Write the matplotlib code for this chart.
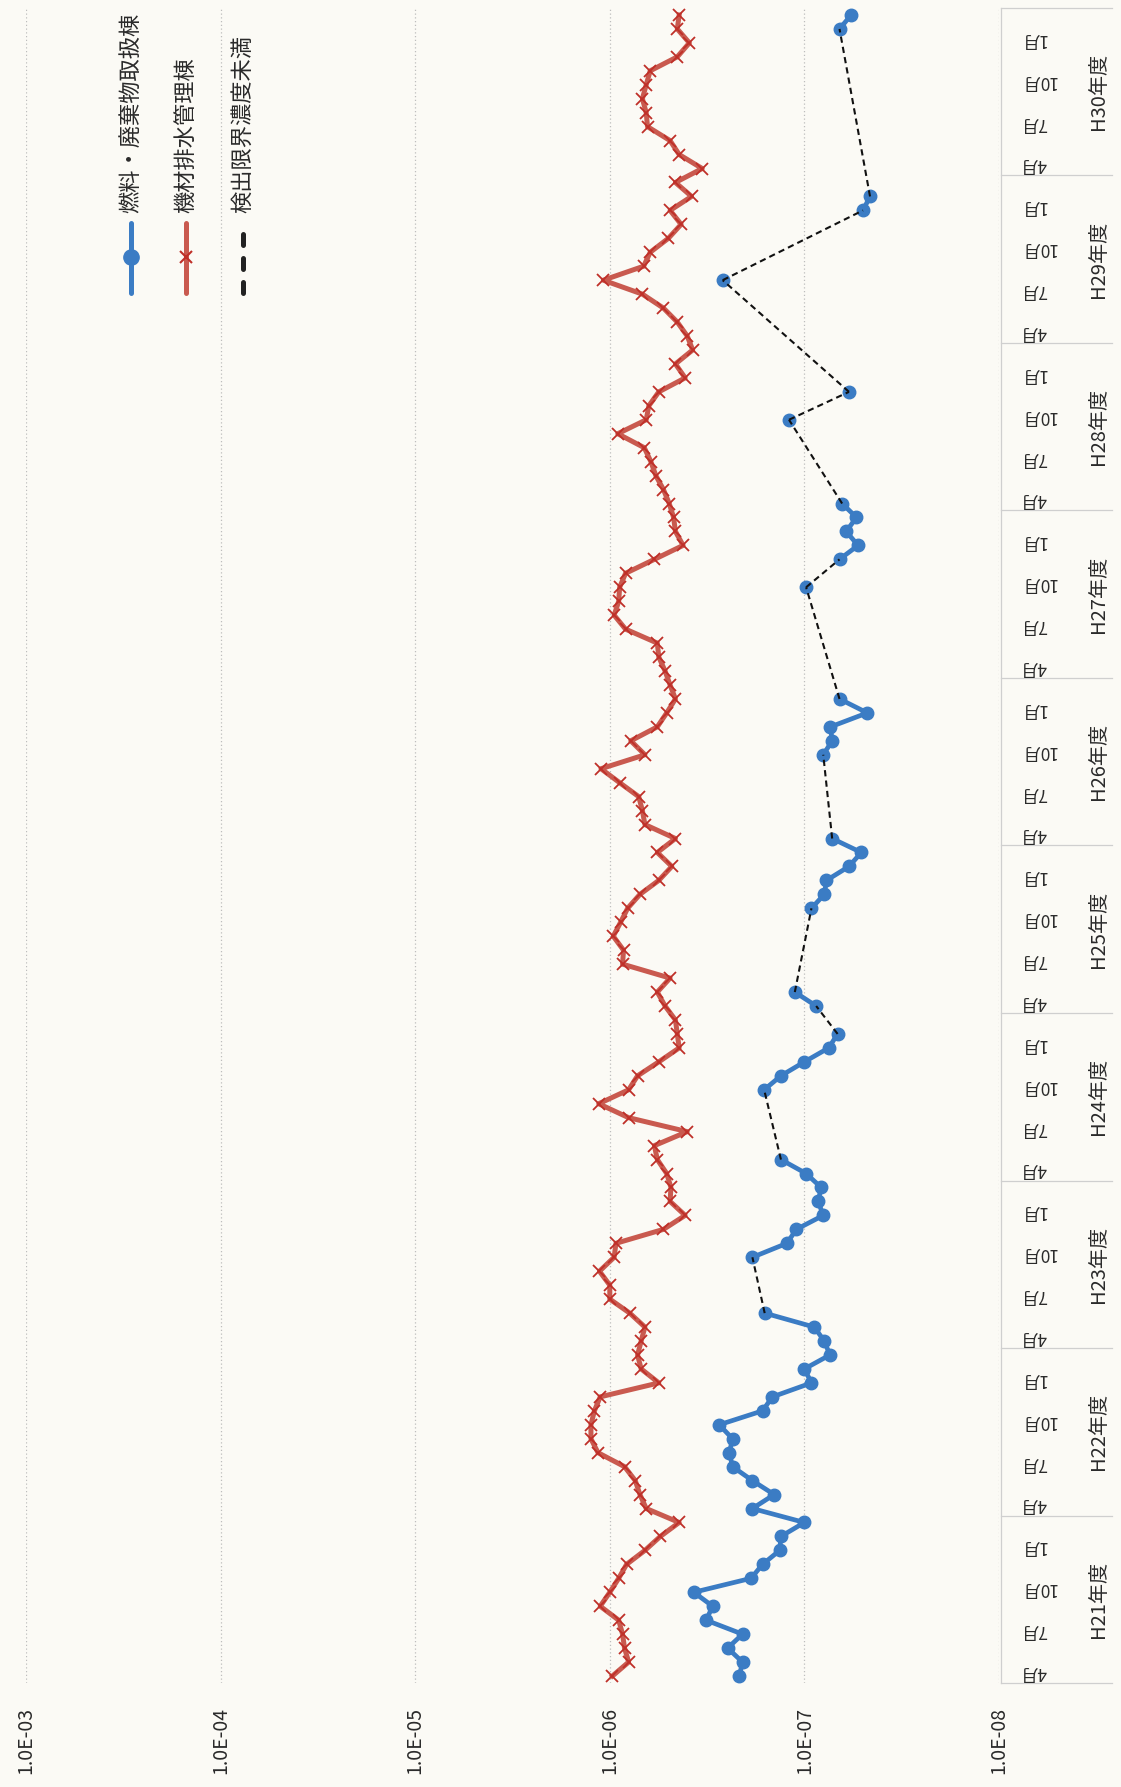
import numpy as np
import matplotlib.pyplot as plt
from matplotlib import transforms
from matplotlib.lines import Line2D
from matplotlib.ticker import NullLocator

plt.rcParams['font.family'] = ['Noto Sans CJK JP', 'DejaVu Sans']

# fiscal years (April -> March), one value per month
fiscal_years = ['H21', 'H22', 'H23', 'H24', 'H25', 'H26', 'H27', 'H28', 'H29', 'H30']
months = [4, 5, 6, 7, 8, 9, 10, 11, 12, 1, 2, 3]
tick_months = [4, 7, 10, 1]

decades = [1e-3, 1e-4, 1e-5, 1e-6, 1e-7, 1e-8]
decade_labels = ['1.0E-03', '1.0E-04', '1.0E-05', '1.0E-06', '1.0E-07', '1.0E-08']

series_names = ['燃料・廃棄物取扱棟', '機材排水管理棟', '検出限界濃度未満']

nan = np.nan
# 燃料・廃棄物取扱棟 (nan = below detection limit)
fuel_bldg = [
    2.16e-7, 2.08e-7, 2.48e-7, 2.08e-7, 3.2e-7, 2.96e-7, 3.7e-7, 1.88e-7, 1.64e-7, 1.34e-7, 1.32e-7, 1.0e-7,
    1.85e-7, 1.43e-7, 1.85e-7, 2.34e-7, 2.43e-7, 2.34e-7, 2.74e-7, 1.64e-7, 1.46e-7, 9.2e-8, 1.0e-7, 7.4e-8,
    7.9e-8, 8.9e-8, 1.6e-7, nan, nan, nan, 1.85e-7, 1.23e-7, 1.1e-7, 8.0e-8, 8.5e-8, 8.2e-8,
    9.8e-8, 1.32e-7, nan, nan, nan, nan, 1.61e-7, 1.32e-7, 1.0e-7, 7.5e-8, 6.75e-8, nan,
    8.7e-8, 1.12e-7, nan, nan, nan, nan, nan, 9.2e-8, 7.9e-8, 7.7e-8, 5.9e-8, 5.1e-8,
    7.2e-8, nan, nan, nan, nan, nan, 8.0e-8, 7.2e-8, 7.35e-8, 4.75e-8, 6.6e-8, nan,
    nan, nan, nan, nan, nan, nan, 9.8e-8, nan, 6.6e-8, 5.3e-8, 6.1e-8, 5.4e-8,
    6.4e-8, nan, nan, nan, nan, nan, 1.2e-7, nan, 5.9e-8, nan, nan, nan,
    nan, nan, nan, nan, 2.63e-7, nan, nan, nan, nan, 5.0e-8, 4.6e-8, nan,
    nan, nan, nan, nan, nan, nan, nan, nan, nan, nan, 6.6e-8, 5.75e-8,
]
# 機材排水管理棟
equip_bldg = [
    9.7e-7, 8.0e-7, 8.4e-7, 8.6e-7, 9.0e-7, 1.12e-6, 1.0e-6, 9.0e-7, 8.2e-7, 6.6e-7, 5.5e-7, 4.4e-7,
    6.5e-7, 7.0e-7, 7.4e-7, 8.4e-7, 1.15e-6, 1.25e-6, 1.25e-6, 1.2e-6, 1.12e-6, 5.6e-7, 6.9e-7, 7.2e-7,
    6.9e-7, 6.6e-7, 7.9e-7, 1.0e-6, 1.0e-6, 1.13e-6, 9.5e-7, 9.3e-7, 5.3e-7, 4.1e-7, 4.9e-7, 4.85e-7,
    5.1e-7, 5.7e-7, 5.9e-7, 4.0e-7, 8.0e-7, 1.14e-6, 8.0e-7, 7.2e-7, 5.6e-7, 4.4e-7, 4.5e-7, 4.6e-7,
    5.2e-7, 5.7e-7, 4.9e-7, 8.6e-7, 8.5e-7, 9.6e-7, 8.8e-7, 8.1e-7, 7.0e-7, 5.6e-7, 4.8e-7, 5.7e-7,
    4.6e-7, 6.6e-7, 6.8e-7, 7.1e-7, 8.9e-7, 1.11e-6, 6.6e-7, 7.8e-7, 5.7e-7, 5.1e-7, 4.6e-7, 4.9e-7,
    5.2e-7, 5.6e-7, 5.7e-7, 8.3e-7, 9.5e-7, 9.0e-7, 8.9e-7, 8.3e-7, 5.9e-7, 4.2e-7, 4.6e-7, 4.7e-7,
    4.95e-7, 5.3e-7, 5.8e-7, 6.15e-7, 6.65e-7, 9.1e-7, 6.5e-7, 6.3e-7, 5.6e-7, 4.1e-7, 4.6e-7, 3.75e-7,
    4.0e-7, 4.5e-7, 5.3e-7, 6.8e-7, 1.08e-6, 6.7e-7, 6.2e-7, 5.0e-7, 4.3e-7, 4.9e-7, 3.8e-7, 4.6e-7,
    3.35e-7, 4.4e-7, 4.9e-7, 6.4e-7, 6.5e-7, 6.8e-7, 6.5e-7, 6.2e-7, 4.5e-7, 3.9e-7, 4.5e-7, 4.4e-7,
]

BG = '#fbfaf5'
BLUE = '#3b7cc4'
RED = '#c95a4f'
RED_MK = '#bf2f28'
TXT = '#2a2a2a'
GRID = '#bdbdbd'

W, H = 1121, 1787
fig = plt.figure(figsize=(W / 100, H / 100), dpi=100)
fig.patch.set_facecolor(BG)

# the whole chart is turned 90 deg: time runs upward, values run right-to-left
ax_l, ax_r, ax_b, ax_t = 26, 999, 1683, 8
ax = fig.add_axes([ax_l / W, 1 - ax_b / H, (ax_r - ax_l) / W, (ax_b - ax_t) / H])
ax.set_facecolor(BG)

n = len(fiscal_years) * len(months)
pos = np.arange(n)
fuel = np.array(fuel_bldg, dtype=float)
equip = np.array(equip_bldg, dtype=float)

ax.set_xscale('log')
ax.set_xlim(decades[0], decades[-1])
ax.set_ylim(-0.5, n - 0.5)
for s in ax.spines.values():
    s.set_visible(False)

# value axis
ax.set_xticks(decades)
ax.set_xticklabels(decade_labels, rotation=90, fontsize=14, color=TXT)
ax.xaxis.set_minor_locator(NullLocator())
ax.tick_params(axis='x', length=0, pad=17)
ax.xaxis.grid(True, ls=(0, (1, 2)), color=GRID, lw=0.9)

# month axis (labels end up upside down, as in the scan)
month_pos = [i for i in pos if months[i % 12] in tick_months]
ax.set_yticks([])
trans = transforms.blended_transform_factory(ax.transAxes, ax.transData)
lift = transforms.ScaledTranslation(0, 4 / 100, fig.dpi_scale_trans)
mx = (1020 - ax_l) / (ax_r - ax_l)
for i in month_pos:
    ax.text(mx, i, f'{months[i % 12]}月', transform=trans + lift, rotation=180,
            ha='left', va='center', fontsize=12.5, color=TXT)

# year table to the right of the plot
tx0 = (1001 - ax_l) / (ax_r - ax_l)
tx1 = (1112 - ax_l) / (ax_r - ax_l)
ax.plot([tx0, tx0], [-0.5, n - 0.5], transform=trans, color='#cfcfcf', lw=0.9, clip_on=False)
for k in range(len(fiscal_years) + 1):
    ax.plot([tx0, tx1], [k * 12 - 0.5, k * 12 - 0.5], transform=trans, color='#cfcfcf', lw=0.9, clip_on=False)
for k, fy in enumerate(fiscal_years):
    ax.text((1098 - ax_l) / (ax_r - ax_l), k * 12 + 5.5, f'{fy}年度', transform=trans,
            rotation=90, ha='center', va='center', fontsize=14.5, color=TXT)

# data
ax.plot(equip, pos, color=RED, lw=3.6, marker='x', ms=8, mec=RED_MK, mew=1.3, zorder=3)
ax.plot(fuel, pos, color=BLUE, lw=3.4, marker='o', ms=9, mec=BLUE, zorder=4)
valid = np.where(~np.isnan(fuel))[0]
for a, b in zip(valid[:-1], valid[1:]):
    if b - a > 1:
        ax.plot([fuel[a], fuel[b]], [a, b], color='#111111', lw=1.5, ls=(0, (3, 2)), zorder=5)

# legend, drawn by hand because it is rotated
leg_x = [131, 186, 243]
txt_y = 1 - 213 / H
ln_top, ln_bot, ln_mid = 1 - 223 / H, 1 - 293 / H, 1 - 257 / H
fig.add_artist(Line2D([leg_x[0] / W] * 2, [ln_bot, ln_top], color=BLUE, lw=3.6, solid_capstyle='round'))
fig.add_artist(Line2D([leg_x[0] / W], [ln_mid], color=BLUE, marker='o', ms=11, ls='none'))
fig.add_artist(Line2D([leg_x[1] / W] * 2, [ln_bot, ln_top], color=RED, lw=3.6, solid_capstyle='round'))
fig.add_artist(Line2D([leg_x[1] / W], [ln_mid], color=RED_MK, marker='x', ms=9, mew=1.5, ls='none'))
fig.add_artist(Line2D([leg_x[2] / W] * 2, [ln_bot, ln_top], color='#222222', lw=3.6,
                      ls=(0, (2.2, 2.6)), dash_capstyle='round'))
for x, name in zip(leg_x, series_names):
    fig.text(x / W, txt_y, name, rotation=90, ha='center', va='bottom', fontsize=16, color=TXT)

fig.savefig('out.png', dpi=100, facecolor=BG)
